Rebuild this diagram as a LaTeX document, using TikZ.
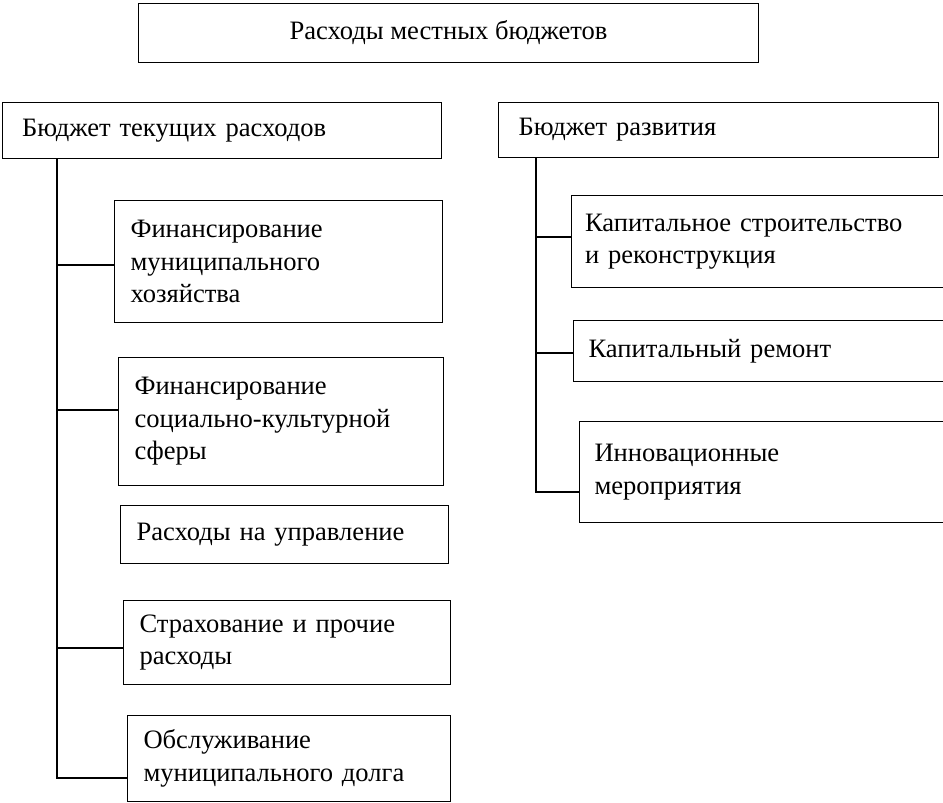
\documentclass[tikz,border=0pt]{standalone}
\usepackage{fontspec}
\setmainfont{Liberation Serif}
\usetikzlibrary{positioning}

\begin{document}
\begin{tikzpicture}[
    x=0.02646cm, y=-0.02646cm,
    every node/.style={font=\fontsize{20}{24.5}\selectfont},
    box/.style={rectangle, draw, thick, anchor=north west, align=left, inner xsep=0.3cm},
    line/.style={thick}
]
\useasboundingbox (0,0) rectangle (943,802);

% Title
\node[box, align=center, minimum width=620*0.02646cm, minimum height=59*0.02646cm] (title) at (138,3) {Расходы местных бюджетов};

% Headers
\node[box, minimum width=439*0.02646cm, minimum height=56*0.02646cm, text width=400*0.02646cm, inner xsep=0.25cm] (cur) at (2,102) {Бюджет текущих расходов};
\node[box, minimum width=440*0.02646cm, minimum height=55*0.02646cm, text width=400*0.02646cm, inner xsep=0.25cm] (dev) at (498,102) {Бюджет развития};

% Current budget items
\node[box, minimum width=328*0.02646cm, minimum height=122*0.02646cm, text width=296*0.02646cm] (munic) at (114,200) {Финансирование\\муниципального\\хозяйства};
\node[box, minimum width=325*0.02646cm, minimum height=128*0.02646cm, text width=293*0.02646cm] (social) at (118,357) {Финансирование\\социально-культурной\\сферы};
\node[box, minimum width=328*0.02646cm, minimum height=58*0.02646cm, text width=296*0.02646cm] (manage) at (120,505) {Расходы на управление};
\node[box, minimum width=327*0.02646cm, minimum height=84*0.02646cm, text width=295*0.02646cm] (insur) at (123,600) {Страхование и прочие\\расходы};
\node[box, minimum width=323*0.02646cm, minimum height=86*0.02646cm, text width=291*0.02646cm] (debt) at (127,715) {Обслуживание\\муниципального долга};

% Development budget items
\node[box, minimum width=372*0.02646cm, minimum height=92*0.02646cm, text width=345*0.02646cm, inner xsep=0.22cm] (build) at (571,195) {Капитальное строительство\\и реконструкция};
\node[box, minimum width=370*0.02646cm, minimum height=61*0.02646cm, text width=340*0.02646cm, inner xsep=0.25cm] (repair) at (573,320) {Капитальный ремонт};
\node[box, minimum width=364*0.02646cm, minimum height=101*0.02646cm, text width=334*0.02646cm, inner xsep=0.25cm] (innov) at (579,421) {Инновационные\\мероприятия};

% Connectors
\coordinate (lt) at (57,158);
\coordinate (lb) at (57,778);
\draw[line] (lt) -- (lb) -- (debt.west |- lb);
\draw[line] (57,265) -- (munic.west |- 0,265);
\draw[line] (57,410) -- (social.west |- 0,410);
\draw[line] (57,648) -- (insur.west |- 0,648);

\coordinate (rt) at (536,157);
\coordinate (rb) at (536,492);
\draw[line] (rt) -- (rb) -- (innov.west |- rb);
\draw[line] (536,237) -- (build.west |- 0,237);
\draw[line] (536,353) -- (repair.west |- 0,353);
\end{tikzpicture}
\end{document}
